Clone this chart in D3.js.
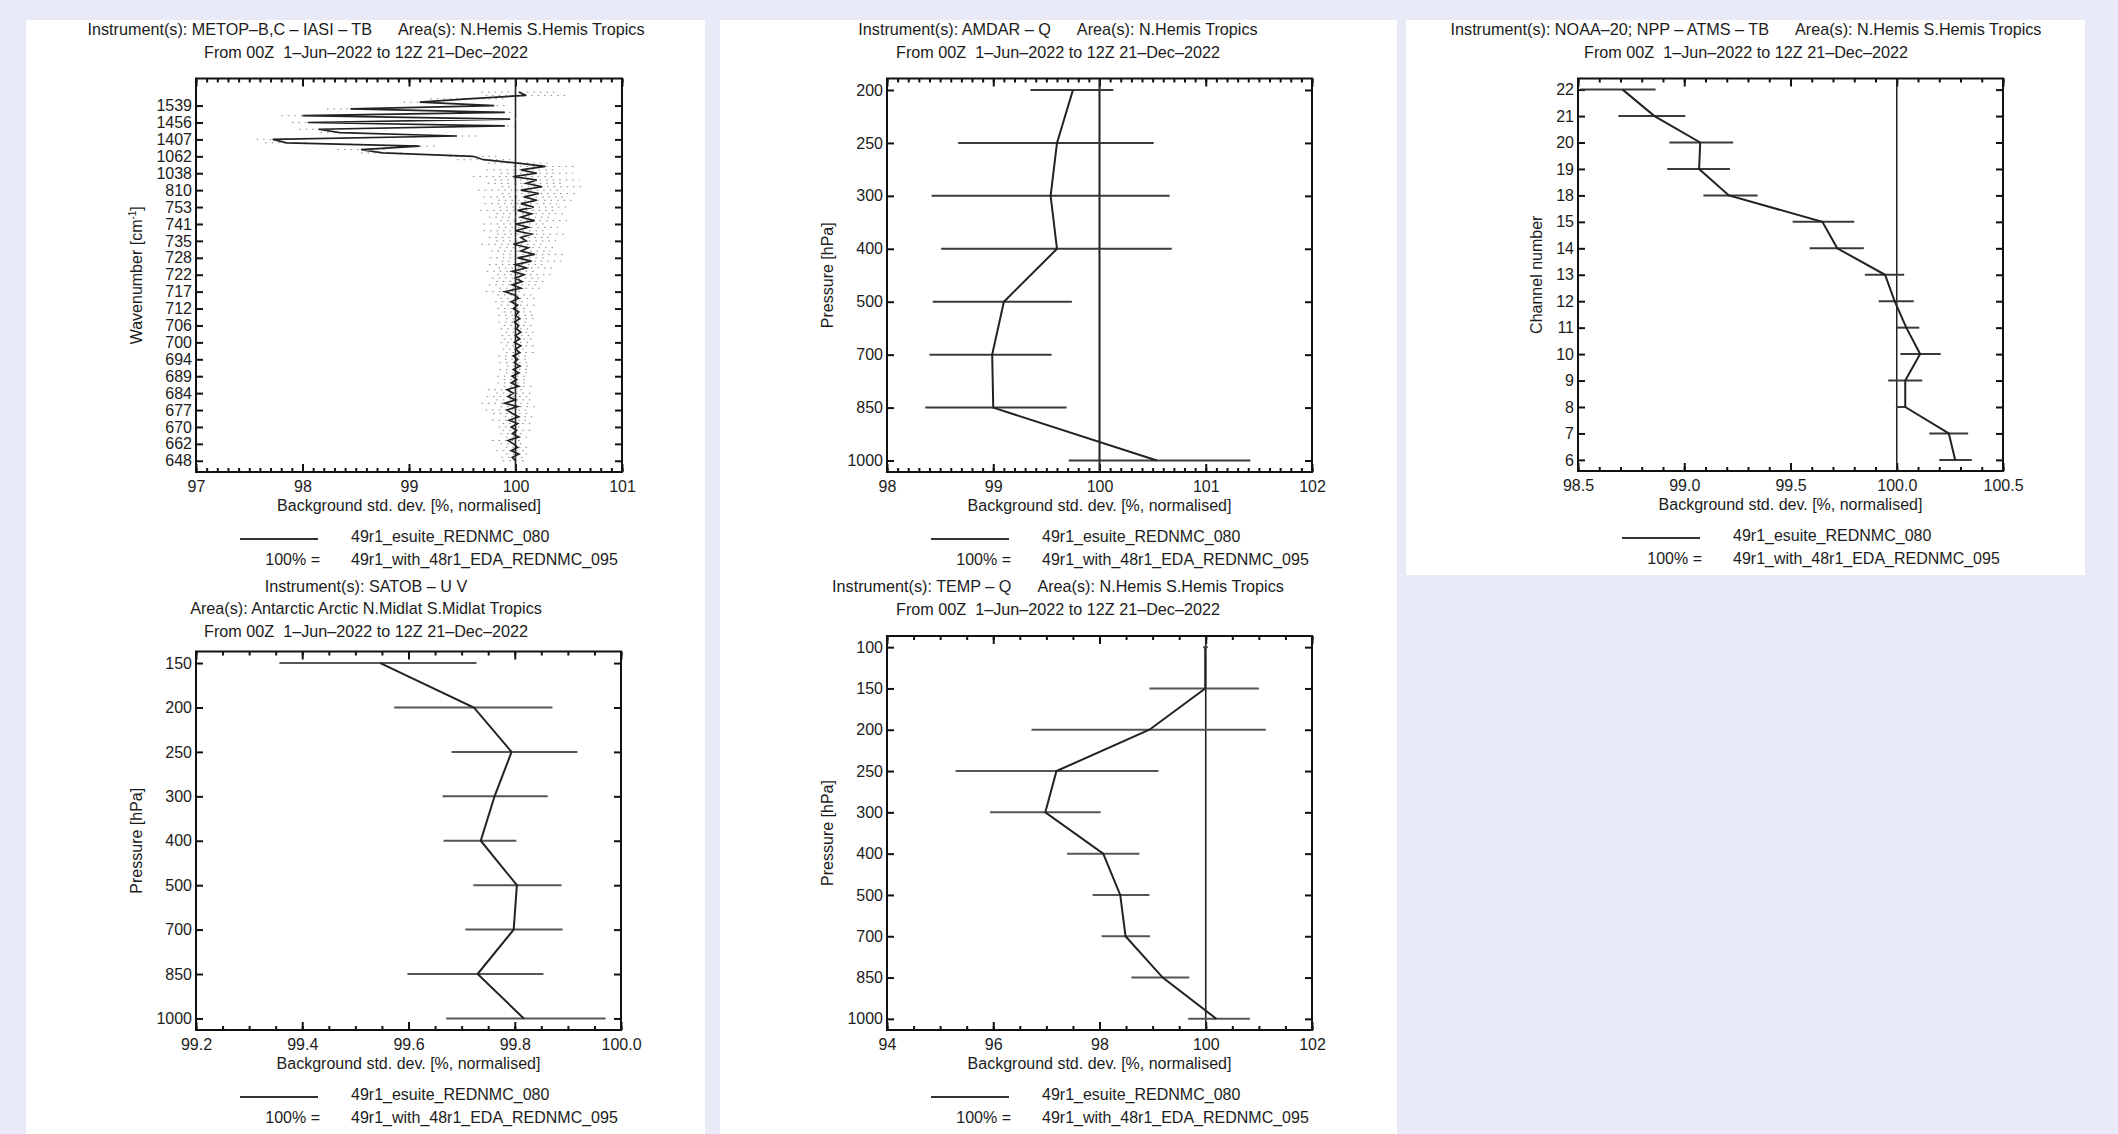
<!DOCTYPE html>
<html><head><meta charset="utf-8">
<script src="https://cdn.jsdelivr.net/npm/d3@7"></script>
<style>
html,body{margin:0;padding:0;background:#e8eaf7;}
svg{display:block;}
text{font-family:"Liberation Sans",Arial,Helvetica,sans-serif;fill:#1c1c1c;white-space:pre;}
</style></head>
<body>
<svg id="chart" width="2118" height="1134"></svg>
<script>
// ---------------- DATA ----------------
const dateLine = "From 00Z  1–Jun–2022 to 12Z 21–Dec–2022";
const legendRun = "49r1_esuite_REDNMC_080";
const legendRef = "49r1_with_48r1_EDA_REDNMC_095";
const xTitle = "Background std. dev. [%, normalised]";

// IASI (panel 1): tick labels bottom->top, one label every 5 channels
const iasiLabels = ["648","662","670","677","684","689","694","700","706","712","717","722","728","735","741","753","810","1038","1062","1407","1456","1539"];
const iasiMean = [
 100.00,99.97,100.03,99.96,100.02,99.98,99.93,100.03,99.97,100.01,
 99.96,100.02,99.94,100.03,99.97,99.92,100.02,99.90,100.00,99.93,
 99.98,99.92,100.03,99.96,100.01,99.97,100.03,99.98,100.04,99.99,
 100.02,99.98,100.04,100.00,100.05,99.99,100.04,100.00,100.05,100.01,
 100.03,99.99,100.04,100.00,100.03,99.98,100.02,99.96,100.03,99.99,
 99.90,100.05,99.97,100.06,100.00,100.08,99.97,100.10,100.00,100.15,
 100.02,100.18,100.05,100.12,99.98,100.10,100.05,100.15,100.00,100.12,
 100.00,100.18,100.05,100.15,100.02,100.17,100.05,100.20,100.08,100.22,
 100.05,100.25,100.10,100.20,99.98,100.20,100.05,100.28,100.02,99.70,
 99.60,98.75,98.55,99.10,97.85,97.72,99.45,98.35,98.15,99.90,
 98.05,99.95,98.00,99.90,98.45,99.80,99.10,99.55,100.10,100.03];
const iasiErr = [
 0.12,0.10,0.12,0.14,0.11,0.12,0.15,0.12,0.11,0.13,
 0.12,0.14,0.16,0.13,0.18,0.20,0.16,0.22,0.18,0.20,
 0.16,0.18,0.14,0.13,0.12,0.14,0.12,0.13,0.12,0.14,
 0.12,0.14,0.13,0.12,0.14,0.13,0.15,0.13,0.14,0.15,
 0.14,0.15,0.13,0.16,0.14,0.15,0.16,0.15,0.17,0.16,
 0.18,0.20,0.22,0.24,0.22,0.25,0.24,0.26,0.25,0.28,
 0.26,0.30,0.28,0.27,0.30,0.28,0.30,0.32,0.30,0.28,
 0.30,0.32,0.30,0.33,0.35,0.32,0.34,0.36,0.38,0.35,
 0.40,0.38,0.36,0.40,0.38,0.34,0.32,0.30,0.28,0.25,
 0.22,0.20,0.22,0.18,0.20,0.15,0.20,0.18,0.18,0.10,
 0.15,0.08,0.20,0.08,0.22,0.10,0.15,0.35,0.38,0.35];

// AMDAR - Q (panel 2)
const amdarLevels = ["200","250","300","400","500","700","850","1000"];
const amdarMean = [99.75,99.60,99.54,99.60,99.10,98.99,99.00,100.54];
const amdarLo   = [99.35,98.67,98.42,98.51,98.43,98.40,98.36,99.71];
const amdarHi   = [100.13,100.51,100.66,100.68,99.74,99.55,99.69,101.42];

// ATMS (panel 3)
const atmsChannels = ["22","21","20","19","18","15","14","13","12","11","10","9","8","7","6"];
const atmsMean = [98.71,98.86,99.075,99.07,99.21,99.65,99.72,99.945,99.99,100.045,100.11,100.04,100.04,100.245,100.275];
const atmsLo   = [98.51,98.69,98.93,98.92,99.09,99.51,99.59,99.85,99.915,99.998,100.017,99.96,99.996,100.153,100.20];
const atmsHi   = [98.865,99.005,99.23,99.215,99.345,99.80,99.845,100.035,100.08,100.106,100.207,100.12,100.045,100.336,100.353];

// SATOB - U V (panel 4)
const satobLevels = ["150","200","250","300","400","500","700","850","1000"];
const satobMean = [99.547,99.723,99.794,99.762,99.736,99.804,99.798,99.730,99.817];
const satobLo   = [99.357,99.573,99.681,99.664,99.666,99.722,99.707,99.598,99.671];
const satobHi   = [99.728,99.871,99.918,99.862,99.803,99.888,99.890,99.854,99.971];

// TEMP - Q (panel 5)
const tempLevels = ["100","150","200","250","300","400","500","700","850","1000"];
const tempMean = [99.99,99.99,98.94,97.19,96.98,98.07,98.39,98.49,99.19,100.20];
const tempLo   = [99.95,98.94,96.72,95.29,95.94,97.39,97.87,98.04,98.60,99.67];
const tempHi   = [100.04,101.00,101.13,99.11,98.02,98.75,98.94,98.95,99.69,100.83];

// x-axis ticks
const iasiXTicks  = [97,98,99,100,101];
const amdarXTicks = [98,99,100,101,102];
const atmsXTicks  = [98.5,99.0,99.5,100.0,100.5];
const satobXTicks = [99.2,99.4,99.6,99.8,100.0];
const tempXTicks  = [94,96,98,100,102];

// ---------------- DRAWING ----------------
const svg = d3.select("#chart");
const FS = 16;

// white panels
[[26,20,679,1114],[720,20,677,1114],[1406,20,679,555]].forEach(p=>{
  svg.append("rect").attr("x",p[0]).attr("y",p[1]).attr("width",p[2]).attr("height",p[3]).attr("fill","#fff");
});

function title(lines, cx, ys){
  lines.forEach((ln,i)=>{
    const t = svg.append("text").attr("x",cx).attr("y",ys[i]).attr("dy","0.35em")
      .attr("text-anchor","middle").attr("font-size",16.2);
    const parts = ln.split("|");
    t.append("tspan").text(parts[0]);
    if(parts[1]) t.append("tspan").attr("dx",26).text(parts[1]);
  });
}

function panel(cfg){
  const {l,r,t,b} = cfg.box;
  const g = svg.append("g");
  const x = d3.scaleLinear().domain([cfg.xTicks[0], cfg.xTicks[cfg.xTicks.length-1]]).range([l,r]);
  const y = cfg.y;
  const minors = d3.range(cfg.xTicks[0], cfg.xTicks[cfg.xTicks.length-1]+1e-9, cfg.minor).map(v=>+v.toFixed(4));

  const clipId = "clip"+cfg.id;
  svg.append("clipPath").attr("id",clipId).append("rect").attr("x",l).attr("y",t).attr("width",r-l).attr("height",b-t);

  const styleAxis = sel => {
    sel.select(".domain").remove();
    sel.selectAll(".tick line").attr("stroke","#111").attr("stroke-width",2);
    sel.selectAll("text").attr("font-size",FS).attr("font-family",'"Liberation Sans",Arial,sans-serif').attr("fill","#1c1c1c");
  };
  g.append("g").attr("transform",`translate(0,${b})`)
    .call(d3.axisBottom(x).tickValues(minors).tickSize(-4).tickFormat("")).call(styleAxis);
  g.append("g").attr("transform",`translate(0,${t})`)
    .call(d3.axisTop(x).tickValues(minors).tickSize(-4).tickFormat("")).call(styleAxis);
  g.append("g").attr("transform",`translate(0,${b})`)
    .call(d3.axisBottom(x).tickValues(cfg.xTicks).tickSize(-8).tickPadding(9).tickFormat(cfg.xFmt)).call(styleAxis);
  g.append("g").attr("transform",`translate(0,${t})`)
    .call(d3.axisTop(x).tickValues(cfg.xTicks).tickSize(-8).tickFormat("")).call(styleAxis);
  g.append("g").attr("transform",`translate(${l},0)`)
    .call(cfg.yAxis(d3.axisLeft(y)).tickSize(-7).tickPadding(4)).call(styleAxis);
  g.append("g").attr("transform",`translate(${r},0)`)
    .call(cfg.yAxis(d3.axisRight(y)).tickSize(-7).tickFormat("")).call(styleAxis);

  const plot = g.append("g").attr("clip-path",`url(#${clipId})`);
  if(cfg.refLine){
    plot.append("line").attr("x1",x(100)).attr("x2",x(100)).attr("y1",t).attr("y2",b)
      .attr("stroke","#222").attr("stroke-width",cfg.refW||1.6);
  }
  plot.selectAll("line.err").data(cfg.data).join("line").attr("class","err")
    .attr("x1",d=>x(d.lo)).attr("x2",d=>x(d.hi)).attr("y1",d=>y(d.k)).attr("y2",d=>y(d.k))
    .attr("stroke",cfg.errColor||"#3a3a3a").attr("stroke-width",cfg.errW||2)
    .attr("stroke-dasharray",cfg.errDash||null);
  plot.append("path").datum(cfg.data)
    .attr("d",d3.line().x(d=>x(d.v)).y(d=>y(d.k)))
    .attr("fill","none").attr("stroke","#222").attr("stroke-width",cfg.lineW||2);

  g.append("rect").attr("x",l).attr("y",t).attr("width",r-l).attr("height",b-t)
    .attr("fill","none").attr("stroke","#111").attr("stroke-width",2);

  const cx=(l+r)/2, cy=(t+b)/2;
  g.append("text").attr("x",cx).attr("y",b+33).attr("dy","0.35em").attr("text-anchor","middle")
    .attr("font-size",FS).text(xTitle);
  const yt = g.append("text").attr("transform",`translate(${cfg.yTitleX},${cy}) rotate(-90)`)
    .attr("dy","0.35em").attr("text-anchor","middle").attr("font-size",FS);
  yt.append("tspan").text(cfg.yTitle);
  if(cfg.yTitleSup){
    yt.append("tspan").attr("font-size",10).attr("dy",-6).text(cfg.yTitleSup);
    yt.append("tspan").attr("dy",6).text("]");
  }
  g.append("line").attr("x1",l+44).attr("x2",l+122).attr("y1",b+67).attr("y2",b+67)
    .attr("stroke","#333").attr("stroke-width",2);
  g.append("text").attr("x",l+155).attr("y",b+64).attr("dy","0.35em").attr("font-size",FS).text(legendRun);
  g.append("text").attr("x",l+124).attr("y",b+87).attr("dy","0.35em").attr("text-anchor","end").attr("font-size",FS).text("100% =");
  g.append("text").attr("x",l+155).attr("y",b+87).attr("dy","0.35em").attr("font-size",FS).text(legendRef);
}

function catScale(levels, t, b, pad){
  return d3.scalePoint().domain(levels).range([t,b]).padding(pad);
}
function catData(levels, mean, lo, hi){
  return levels.map((k,i)=>({k, v:mean[i], lo:lo[i], hi:hi[i]}));
}

// Panel 1: IASI
title(["Instrument(s): METOP–B,C – IASI – TB|Area(s): N.Hemis S.Hemis Tropics", dateLine], 366, [29,52]);
{
  const box={l:196,r:622,t:78.5,b:472};
  const y = d3.scaleLinear().domain([-0.663,22.6]).range([box.b,box.t]);
  panel({id:1, box, xTicks:iasiXTicks, minor:0.1, xFmt:d3.format("d"),
    y, yAxis:a=>a.tickValues(d3.range(iasiLabels.length)).tickFormat(i=>iasiLabels[i]),
    data: iasiMean.map((v,i)=>({k:i/5, v, lo:v-iasiErr[i], hi:v+iasiErr[i]})),
    refLine:true, refW:1.6, errDash:"1.5,5", errW:1, errColor:"#8a8a8a", lineW:1.7,
    yTitleX:136, yTitle:"Wavenumber [cm", yTitleSup:"-1"});
}

// Panel 2: AMDAR
title(["Instrument(s): AMDAR – Q|Area(s): N.Hemis Tropics", dateLine], 1058, [29,52]);
{
  const box={l:887,r:1312,t:78.5,b:472};
  panel({id:2, box, xTicks:amdarXTicks, minor:0.1, xFmt:d3.format("d"),
    y:catScale(amdarLevels,box.t,box.b,0.217), yAxis:a=>a,
    data:catData(amdarLevels,amdarMean,amdarLo,amdarHi),
    refLine:true, refW:2, yTitleX:827, yTitle:"Pressure [hPa]"});
}

// Panel 3: ATMS
title(["Instrument(s): NOAA–20; NPP – ATMS – TB|Area(s): N.Hemis S.Hemis Tropics", dateLine], 1746, [29,52]);
{
  const box={l:1578,r:2003,t:78.5,b:471};
  panel({id:3, box, xTicks:atmsXTicks, minor:0.1, xFmt:d3.format(".1f"),
    y:catScale(atmsChannels,box.t,box.b,0.42), yAxis:a=>a,
    data:catData(atmsChannels,atmsMean,atmsLo,atmsHi),
    refLine:true, refW:1.5, yTitleX:1536, yTitle:"Channel number"});
}

// Panel 4: SATOB
title(["Instrument(s): SATOB – U V","Area(s): Antarctic Arctic N.Midlat S.Midlat Tropics", dateLine], 366, [586,608.5,631]);
{
  const box={l:196,r:621,t:651.5,b:1030};
  panel({id:4, box, xTicks:satobXTicks, minor:0.05, xFmt:d3.format(".1f"),
    y:catScale(satobLevels,box.t,box.b,0.26), yAxis:a=>a,
    data:catData(satobLevels,satobMean,satobLo,satobHi),
    refLine:false, errColor:"#555", yTitleX:136, yTitle:"Pressure [hPa]"});
}

// Panel 5: TEMP
title(["Instrument(s): TEMP – Q|Area(s): N.Hemis S.Hemis Tropics", dateLine], 1058, [586.5,609]);
{
  const box={l:887,r:1312,t:636,b:1030};
  panel({id:5, box, xTicks:tempXTicks, minor:0.5, xFmt:d3.format("d"),
    y:catScale(tempLevels,box.t,box.b,0.27), yAxis:a=>a,
    data:catData(tempLevels,tempMean,tempLo,tempHi),
    refLine:true, refW:1.6, errColor:"#555", yTitleX:827, yTitle:"Pressure [hPa]"});
}
</script>
</body></html>
